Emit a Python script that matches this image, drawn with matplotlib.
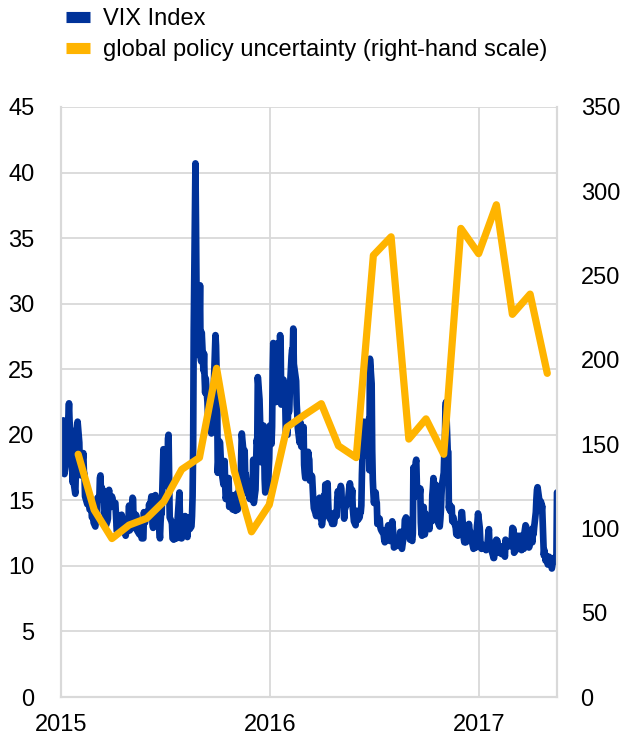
import numpy as np
import pandas as pd
import matplotlib
matplotlib.use('Agg')
import matplotlib.pyplot as plt
import matplotlib.dates as mdates
from matplotlib.lines import Line2D

###################################################################################################
# Data
###################################################################################################

# VIX Index, daily closes grouped by month (left-hand scale)
vix_2015 = [
    [17.8, 19.9, 21.1, 19.3, 17.0, 17.6, 19.6, 20.6, 21.5, 22.4, 21.0, 19.9, 18.9, 16.4, 16.7,
     15.5, 17.2, 20.4, 18.8, 21.0],
    [19.4, 17.3, 18.3, 16.9, 17.3, 18.6, 17.2, 17.0, 15.3, 14.7, 15.8, 15.5, 15.3, 14.3, 14.6,
     13.7, 13.8, 13.9, 13.3],
    [13.0, 13.9, 14.2, 14.0, 15.2, 15.1, 16.7, 16.9, 15.4, 16.0, 15.6, 15.7, 14.0, 14.1, 13.0,
     13.4, 13.6, 15.4, 15.8, 15.1, 14.5, 15.3],
    [15.1, 14.7, 14.7, 14.8, 14.0, 13.1, 12.6, 13.9, 13.7, 12.8, 12.6, 13.9, 13.3, 13.3, 12.7,
     12.5, 12.3, 13.1, 13.0, 13.4, 14.6],
    [12.7, 12.9, 14.3, 15.2, 15.1, 12.9, 13.9, 13.9, 13.8, 12.7, 12.4, 12.7, 12.9, 12.9, 12.1,
     12.1, 14.1, 13.3, 13.3, 13.8],
    [14.0, 14.2, 13.7, 14.7, 14.2, 15.3, 14.5, 13.2, 12.9, 13.8, 15.4, 14.8, 14.5, 13.2, 14.0,
     12.7, 12.1, 13.3, 14.0, 14.0, 18.9, 18.2],
    [16.1, 16.8, 17.0, 16.1, 19.7, 20.0, 16.8, 13.7, 13.4, 13.2, 12.1, 12.0, 12.3, 12.2, 12.1,
     12.6, 13.7, 15.6, 13.4, 12.5, 12.1, 12.1],
    [12.6, 13.0, 12.5, 13.8, 13.4, 12.2, 13.7, 13.6, 13.5, 12.8, 13.0, 13.8, 15.3, 19.1, 28.0,
     40.7, 36.0, 30.3, 26.1, 26.1, 28.4],
    [31.4, 26.1, 25.6, 27.8, 24.9, 26.2, 24.4, 23.2, 24.3, 22.5, 21.4, 21.1, 22.3, 20.1, 22.4,
     22.1, 23.5, 23.6, 27.6, 26.8, 24.5],
    [22.6, 17.1, 19.5, 19.4, 18.4, 17.4, 17.1, 16.2, 17.7, 18.0, 16.1, 15.1, 15.8, 15.8, 16.7,
     14.5, 14.5, 15.3, 15.4, 14.3, 14.6, 15.1],
    [14.2, 14.5, 15.5, 15.1, 14.3, 16.5, 15.3, 16.1, 18.4, 20.1, 18.2, 18.8, 16.9, 17.0, 15.5,
     15.6, 15.9, 15.2, 15.1, 16.1],
    [15.1, 15.9, 18.1, 14.8, 15.8, 17.6, 19.6, 19.3, 24.4, 22.7, 21.0, 17.9, 18.9, 20.7, 19.3,
     16.6, 15.6, 15.7, 16.9, 16.1, 17.3, 18.2],
]
vix_2016 = [
    [20.7, 19.3, 20.6, 25.0, 27.0, 24.3, 22.5, 25.2, 24.0, 27.0, 26.1, 27.6, 26.7, 22.3, 24.2,
     22.5, 23.1, 22.4, 20.2],
    [20.0, 22.0, 21.7, 21.8, 23.4, 26.0, 26.5, 26.3, 28.1, 25.4, 24.1, 22.3, 21.6, 20.5, 19.4,
     21.0, 20.7, 19.1, 19.8, 20.6],
    [17.7, 17.1, 16.7, 16.9, 17.4, 18.7, 18.3, 18.1, 16.5, 16.9, 16.8, 15.0, 14.4, 14.0, 13.8,
     14.2, 14.9, 14.7, 15.2, 13.8, 13.6, 14.0],
    [13.1, 14.1, 15.4, 14.1, 16.2, 15.4, 16.3, 14.9, 13.8, 13.7, 13.6, 13.4, 13.2, 13.3, 14.0,
     13.2, 14.1, 14.0, 13.8, 15.2, 15.7],
    [14.7, 15.6, 16.1, 15.9, 14.7, 14.6, 13.6, 14.7, 14.4, 15.0, 14.7, 15.6, 16.0, 16.3, 15.2,
     15.8, 14.4, 13.9, 13.4, 13.1, 14.2],
    [14.2, 13.6, 13.5, 13.7, 14.1, 14.1, 14.6, 17.0, 21.0, 20.5, 20.1, 19.4, 19.4, 18.4, 18.5,
     21.2, 17.3, 25.8, 23.9, 18.8, 16.6, 15.6],
    [14.8, 15.6, 15.0, 14.8, 13.2, 13.5, 13.6, 13.0, 12.8, 12.7, 12.4, 12.0, 11.8, 12.7, 12.0,
     12.9, 13.1, 12.8, 12.7, 11.9],
    [12.4, 13.4, 12.9, 12.4, 11.4, 11.5, 11.7, 12.1, 11.7, 11.6, 11.8, 12.6, 12.2, 11.4, 11.3,
     12.3, 12.4, 13.5, 13.6, 13.7, 12.9, 13.1, 13.4],
    [13.5, 12.0, 12.0, 11.9, 12.5, 17.5, 15.2, 17.9, 18.1, 16.3, 15.4, 15.5, 15.9, 13.3, 12.5,
     12.3, 14.5, 13.1, 12.4, 14.0, 13.3],
    [13.6, 13.6, 13.0, 12.8, 13.5, 13.4, 15.4, 15.9, 16.7, 16.1, 16.2, 15.3, 14.4, 13.8, 13.3,
     13.0, 13.5, 14.2, 15.4, 16.2, 17.1],
    [18.6, 19.3, 22.1, 22.5, 18.7, 18.7, 14.4, 14.7, 14.2, 14.5, 13.4, 13.7, 13.4, 12.9, 12.4,
     12.4, 12.4, 12.3, 13.2, 12.9, 13.3],
    [14.1, 14.1, 12.1, 11.8, 12.2, 12.6, 11.8, 12.6, 12.7, 13.2, 12.8, 12.2, 11.7, 11.5, 11.3,
     11.4, 11.4, 12.0, 13.0, 13.4, 14.0],
]
vix_2017 = [
    [12.9, 11.9, 11.7, 11.3, 11.6, 11.5, 11.3, 11.5, 11.2, 11.9, 12.5, 12.8, 11.5, 11.8, 11.1,
     10.8, 10.6, 10.6, 11.9, 12.0],
    [11.8, 11.9, 11.0, 11.4, 11.5, 11.5, 10.9, 10.9, 11.1, 10.7, 12.0, 11.8, 11.5, 11.6, 11.7,
     11.7, 11.5, 12.1, 12.9],
    [12.5, 12.8, 11.0, 11.2, 11.5, 11.9, 12.3, 11.7, 11.4, 12.3, 11.6, 11.2, 11.3, 11.3, 12.5,
     12.8, 13.1, 13.0, 12.5, 11.5, 11.4, 11.5, 12.4],
    [12.4, 11.8, 12.9, 12.4, 12.9, 14.1, 15.1, 15.8, 16.0, 14.7, 14.4, 14.9, 14.2, 14.6, 10.8,
     11.2, 10.8, 10.4, 10.8],
    [10.1, 10.6, 10.7, 10.5, 10.6, 9.8, 10.1, 10.2, 10.6, 10.4, 10.4, 10.7, 15.6],
]
vix_last_day = '2017-05-17'

# Global policy uncertainty, monthly (right-hand scale), Jan 2015 - Apr 2017
gepu_2015 = [144, 111, 94, 102, 106, 116, 135, 142, 195, 134, 98, 114]
gepu_2016 = [160, 167, 174, 149, 142, 262, 273, 153, 165, 144, 278, 263]
gepu_2017 = [292, 227, 239, 192]

left_ticks = [0, 5, 10, 15, 20, 25, 30, 35, 40, 45]
right_ticks = [0, 50, 100, 150, 200, 250, 300, 350]
year_ticks = ['2015-01-01', '2016-01-01', '2017-01-01']

BLUE = '#003299'
YELLOW = '#ffb400'
GRID = '#d9d9d9'


###################################################################################################
# Build the series
###################################################################################################

def vix_series() -> pd.Series:
    """Spread the daily closes of each month over that month's business days"""
    dates, values = [], []
    for year, months in ((2015, vix_2015), (2016, vix_2016), (2017, vix_2017)):
        for m, vals in enumerate(months, start=1):
            start = pd.Timestamp(year, m, 1)
            end = start + pd.offsets.MonthEnd(0)
            if year == 2017 and m == len(vix_2017):
                end = pd.Timestamp(vix_last_day)
            days = pd.bdate_range(start, end)
            idx = np.linspace(0, len(days) - 1, len(vals)).round().astype(int)
            dates.extend(days[idx])
            values.extend(vals)
    return pd.Series(values, index=pd.DatetimeIndex(dates))


def gepu_series() -> pd.Series:
    vals = gepu_2015 + gepu_2016 + gepu_2017
    dates = pd.date_range('2015-01-31', periods=len(vals), freq='ME')
    return pd.Series(vals, index=dates)


###################################################################################################
# Plot
###################################################################################################

plt.rcParams['font.family'] = ['Liberation Sans', 'DejaVu Sans']

fig = plt.figure(figsize=(6.25, 7.42), dpi=100)
ax = fig.add_axes([61 / 625, 1 - 697 / 742, (557 - 61) / 625, (697 - 107) / 742])
ax2 = ax.twinx()

vix = vix_series()
gepu = gepu_series()

ax.plot(vix.index, vix.values, color=BLUE, lw=4.8, solid_joinstyle='round',
        solid_capstyle='round')
ax2.plot(gepu.index, gepu.values, color=YELLOW, lw=5.2, solid_joinstyle='round',
         solid_capstyle='round')

ax.set_xlim(pd.Timestamp('2015-01-01'), pd.Timestamp(vix_last_day))
ax.set_ylim(0, 45)
ax2.set_ylim(0, 350)
ax.set_yticks(left_ticks)
ax2.set_yticks(right_ticks)
ax.set_xticks(pd.to_datetime(year_ticks))
ax.xaxis.set_major_formatter(mdates.DateFormatter('%Y'))

ax.grid(True, color=GRID, lw=1.3)
ax.set_axisbelow(True)
for a in (ax, ax2):
    for s in a.spines.values():
        s.set_color(GRID)
        s.set_linewidth(1.5)
    a.tick_params(length=0, labelsize=17, colors='black')
ax.tick_params(axis='y', pad=19)
ax2.tick_params(axis='y', pad=17)
ax.tick_params(axis='x', pad=12)
ax2.spines['top'].set_visible(False)
ax.spines['top'].set_visible(False)

handles = [Line2D([], [], color=BLUE, lw=8, solid_capstyle='butt'),
           Line2D([], [], color=YELLOW, lw=8, solid_capstyle='butt')]
fig.legend(handles, ['VIX Index', 'global policy uncertainty (right-hand scale)'],
           loc='upper left', bbox_to_anchor=(0.072, 1.018), frameon=False, fontsize=17,
           handlelength=1.0, handletextpad=0.55, labelspacing=0.4)

fig.savefig('out.png', dpi=100)
